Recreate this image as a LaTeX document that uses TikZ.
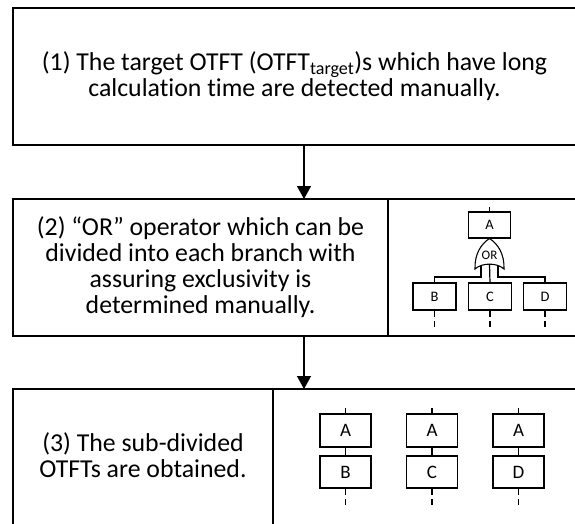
\documentclass[tikz,border=0pt]{standalone}
\usepackage{fontspec}
\setmainfont{Carlito}[Ligatures=NoCommon]
\usetikzlibrary{arrows.meta}
% keep a fixed line pitch even where a subscript hangs low
\setlength{\lineskiplimit}{-20pt}
\begin{document}
\begin{tikzpicture}[x=1pt,y=-1pt,
  every node/.style={inner sep=0pt, outer sep=0pt},
  steptext/.style={align=center, font=\fontsize{25.8}{26}\selectfont},
  bigbox/.style 2 args={draw, line width=1.6pt, minimum width=#1, minimum height=#2, steptext},
  leaf/.style 2 args={draw, line width=1.2pt, minimum width=#1, minimum height=#2},
  flow/.style={line width=1.4pt, -{Triangle[width=14pt,length=13pt]}},
  wire/.style={line width=1.2pt},
  tail/.style={line width=1.2pt, dash pattern=on 7pt off 4pt on 6pt off 20pt},
]
\useasboundingbox (0,0) rectangle (575,524);

% step boxes
\node[bigbox={563pt}{137pt}] (b1) at (294.5,76.5)
  {(1) The target OTFT (OTFT\textsubscript{target})s which have long\\calculation time are detected manually.};
\node[bigbox={375pt}{137pt}] (b2l) at (200.5,267.5)
  {(2) “OR” operator which can be\\divided into each branch with\\assuring exclusivity is\\determined manually.};
\node[bigbox={190pt}{137pt}] (b2r) at (483,267.5) {};
\node[bigbox={260pt}{150pt}] (b3l) at (143,464) {};
\node[steptext] (t3) at (143,455) {(3) The sub-divided\\OTFTs are obtained.};
\node[bigbox={310pt}{150pt}] (b3r) at (428,464) {};

% flow arrows
\coordinate (fx) at (304,0);
\draw[flow] (b1.south -| fx) -- (b2l.north -| fx);
\draw[flow] (b2l.south -| fx) -- (b3l.north -| fx);

% OR-gate tree
\node[leaf={42pt}{26pt}, font=\fontsize{14.5}{14.5}\selectfont] (ga) at (489.5,225) {A};
\coordinate (gtop) at (489.5,207);
\draw[wire] (gtop) -- (ga.north);
\coordinate (apex) at (489.5,238.5);
\coordinate (gl) at (475,269);
\coordinate (gr) at (504,269);
\draw[line width=1.1pt, fill=white] (gl) .. controls (474.5,254) and (481,244) .. (apex)
  .. controls (498,244) and (504.5,254) .. (gr)
  .. controls (497,262.5) and (482,262.5) .. (gl) -- cycle;
\node[font=\fontsize{13}{13}\selectfont] (or) at (489.5,255) {OR};
\node[leaf={43pt}{27pt}, font=\fontsize{14.5}{14.5}\selectfont] (gb) at (434.5,296.5) {B};
\node[leaf={43pt}{27pt}, font=\fontsize{14.5}{14.5}\selectfont] (gc) at (490,296.5) {C};
\node[leaf={43pt}{27pt}, font=\fontsize{14.5}{14.5}\selectfont] (gd) at (545,296.5) {D};
\coordinate (ol) at (481,265.5);
\coordinate (orr) at (498,265.5);
\coordinate (oc) at (489.5,264);
\coordinate (jy) at (0,277);
\draw[wire] (ol) -- (ol |- jy) -| (gb.north);
\draw[wire] (oc) -- (gc.north);
\draw[wire] (orr) -- (orr |- jy) -| (gd.north);
\foreach \n in {gb,gc,gd} {
  \coordinate (\n-end) at ([yshift=-17pt]\n.south);
  \draw[tail] (\n.south) -- (\n-end);
}

% sub-divided trees
\foreach \x/\l/\k in {345.5/B/1, 432/C/2, 518.5/D/3} {
  \node[leaf={51pt}{33pt}, font=\fontsize{19}{19}\selectfont] (ta\k) at (\x,430.5) {A};
  \node[leaf={51pt}{32pt}, font=\fontsize{19}{19}\selectfont] (tb\k) at (\x,472) {\l};
  \coordinate (tt\k) at (\x,408);
  \draw[wire] (tt\k) -- (ta\k.north);
  \draw[wire] (ta\k.south) -- (tb\k.north);
  \coordinate (te\k) at (\x,507);
  \draw[tail] (tb\k.south) -- (te\k);
}
\end{tikzpicture}
\end{document}
